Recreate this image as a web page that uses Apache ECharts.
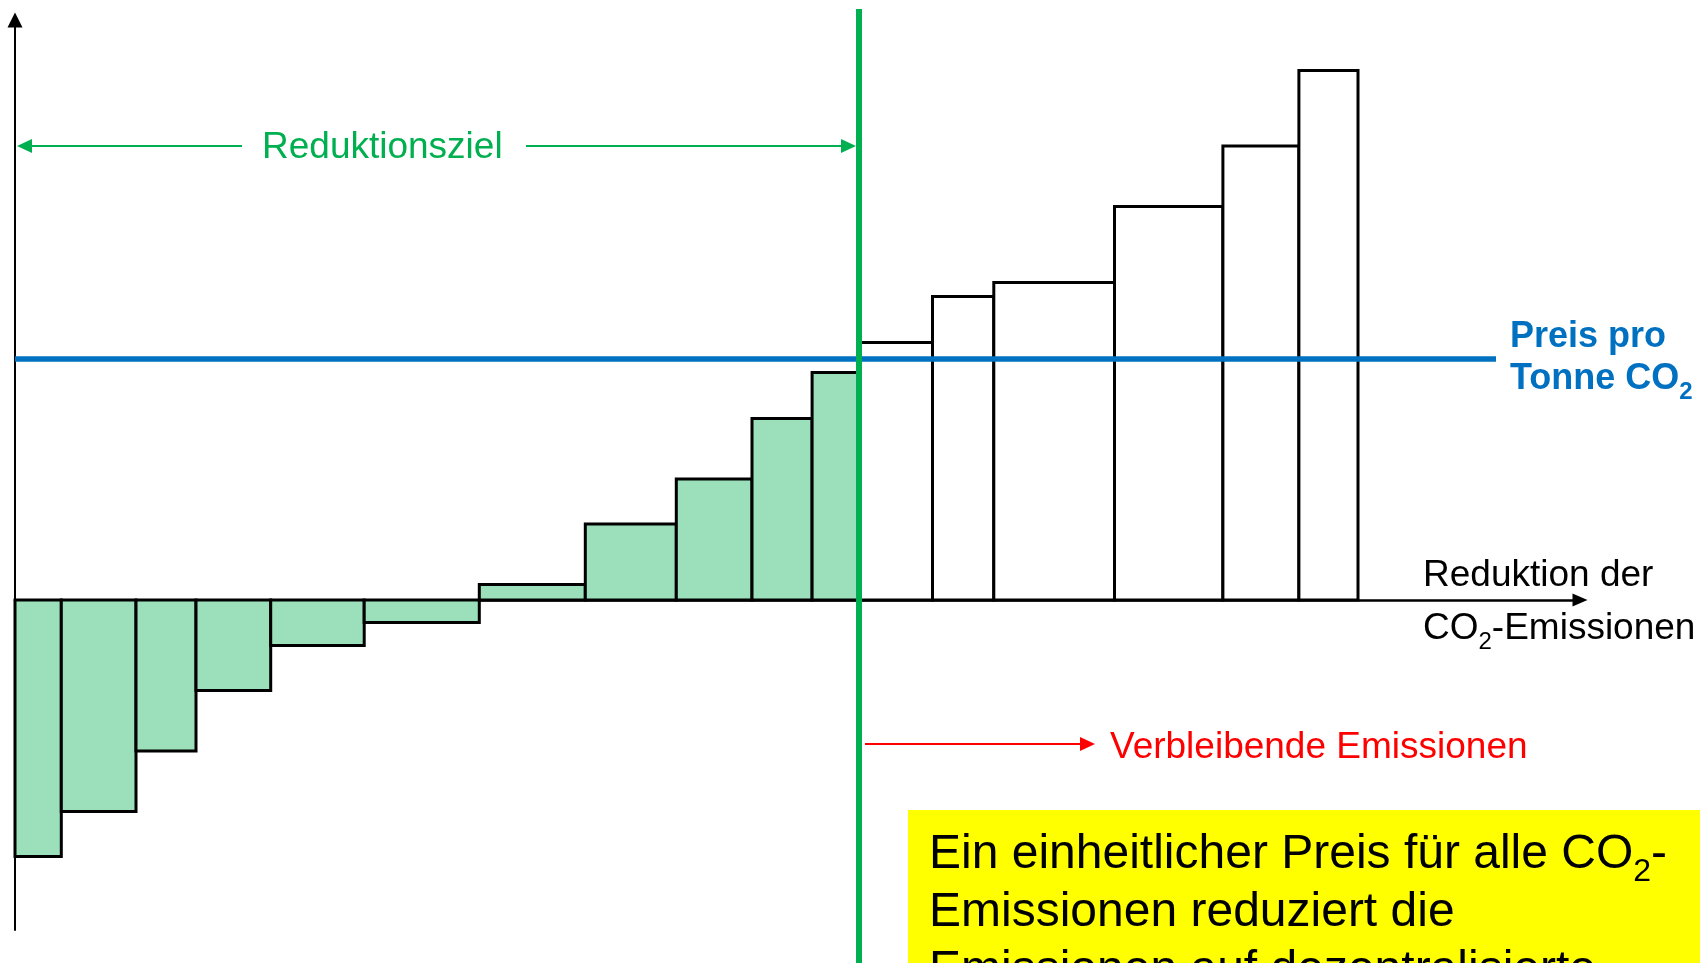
<!DOCTYPE html>
<html>
<head>
<meta charset="utf-8">
<script src="https://cdn.jsdelivr.net/npm/echarts@6/dist/echarts.min.js"></script>
<style>
  html, body { margin: 0; padding: 0; background: #ffffff; }
  #chart { width: 1700px; height: 963px; }
</style>
</head>
<body>
<div id="chart"></div>
<script>
// Abatement options sorted by cost per tonne (merit order)
const abatementVolume = [4.63, 7.47, 6.0, 7.47, 9.35, 11.51, 10.6, 9.1, 7.57, 6.01, 4.69,
                         7.35, 6.13, 12.07, 10.84, 7.6, 5.91];
const abatementCost = [-51.3, -42.3, -30.2, -18.1, -9.1, -4.5, 3.1, 15.2, 24.2, 36.3, 45.5,
                       51.5, 60.7, 63.5, 78.7, 90.8, 105.9];
const carbonPrice = 48.3;

// Annotation texts
const targetText = 'Reduktionsziel';
const remainingText = 'Verbleibende Emissionen';
const xAxisTitle = ['Reduktion der', 'CO', '2', '-Emissionen'];
const priceTitle = ['Preis pro', 'Tonne CO', '2'];
const noteLines = ['Ein einheitlicher Preis für alle CO', '2', '-',
                   'Emissionen reduziert die', 'Emissionen auf dezentralisierte'];

// Axis extents (value units)
const xMax = 156.5;
const yMin = -66;
const yMax = 116;
const priceLineEnd = 148.1;

const GREEN = '#00B050';
const FILL = '#9BE0BA';
const BLUE = '#0070C0';
const RED = '#FF0000';
const FONT = '"Liberation Sans", Arial, sans-serif';

// Bars as [start, end, cost]; the target covers everything cheaper than the price
const bars = [];
let acc = 0;
abatementVolume.forEach((w, i) => {
  bars.push([acc, acc + w, abatementCost[i]]);
  acc += w;
});
const reductionTarget = bars
  .filter(b => b[2] <= carbonPrice)
  .reduce((s, b) => Math.max(s, b[1]), 0);

const chart = echarts.init(document.getElementById('chart'), null, { renderer: 'canvas' });

const option = {
  animation: false,
  backgroundColor: '#ffffff',
  grid: { left: 15, right: 120, top: 20, bottom: 33, outerBoundsMode: 'none', containLabel: false },
  xAxis: {
    type: 'value', min: 0, max: xMax,
    axisLine: { show: true, onZero: true, symbol: ['none', 'triangle'], symbolSize: [13, 15],
                lineStyle: { color: '#000', width: 2.5 } },
    axisTick: { show: false }, axisLabel: { show: false }, splitLine: { show: false }
  },
  yAxis: {
    type: 'value', min: yMin, max: yMax,
    axisLine: { show: true, symbol: ['none', 'triangle'], symbolSize: [15, 15],
                lineStyle: { color: '#000', width: 2 } },
    axisTick: { show: false }, axisLabel: { show: false }, splitLine: { show: false }
  },
  series: [{
    type: 'custom',
    silent: true,
    data: bars,
    encode: { x: [0, 1], y: 2 },
    renderItem: function (params, api) {
      const p0 = api.coord([api.value(0), 0]);
      const p1 = api.coord([api.value(1), api.value(2)]);
      const reduced = api.value(2) <= carbonPrice;
      return {
        type: 'rect',
        shape: {
          x: p0[0], y: Math.min(p0[1], p1[1]),
          width: p1[0] - p0[0], height: Math.abs(p1[1] - p0[1])
        },
        style: { fill: reduced ? FILL : '#ffffff', stroke: '#000', lineWidth: 3 }
      };
    },
    markLine: {
      silent: true,
      symbol: ['none', 'none'],
      z: 5,
      lineStyle: { color: BLUE, width: 5.5, type: 'solid' },
      label: {
        show: true, position: 'end', distance: 14,
        formatter: '{b|' + priceTitle[0] + '}\n{b|' + priceTitle[1] + '}{s|' + priceTitle[2] + '}',
        rich: {
          b: { fontFamily: FONT, fontWeight: 'bold', fontSize: 36, color: BLUE, lineHeight: 42 },
          s: { fontFamily: FONT, fontWeight: 'bold', fontSize: 24, color: BLUE, lineHeight: 42,
               padding: [26, 0, 0, 0] }
        }
      },
      emphasis: { disabled: true },
      data: [[{ coord: [0, carbonPrice] }, { coord: [priceLineEnd, carbonPrice] }]]
    }
  }]
};

chart.setOption(option);

// Annotations placed from the chart's own scales
const toPx = (x, y) => chart.convertToPixel({ gridIndex: 0 }, [x, y]);
const tx = toPx(reductionTarget, 0)[0];
const x0 = toPx(0, 0)[0];
const arrowY = 146;
const redY = 744;

function arrowHead(tipX, y, dir, color) {
  const len = 15, half = 7;
  return {
    type: 'polygon', z: 30, silent: true,
    shape: { points: [[tipX, y], [tipX - dir * len, y - half], [tipX - dir * len, y + half]] },
    style: { fill: color }
  };
}
function seg(xa, ya, xb, yb, color, w) {
  return { type: 'line', z: 30, silent: true,
           shape: { x1: xa, y1: ya, x2: xb, y2: yb },
           style: { stroke: color, lineWidth: w } };
}

const graphics = [
  // Reduction target marker
  seg(tx, 9, tx, 975, GREEN, 6),
  // Two-sided arrow for the target
  seg(x0 + 14, arrowY, 242, arrowY, GREEN, 2.2),
  arrowHead(x0 + 2, arrowY, -1, GREEN),
  seg(526, arrowY, tx - 16, arrowY, GREEN, 2.2),
  arrowHead(tx - 3, arrowY, 1, GREEN),
  {
    type: 'text', z: 30, silent: true, x: 262, y: arrowY + 2,
    style: { text: targetText, font: '37px ' + FONT, fill: GREEN, verticalAlign: 'middle', align: 'left' }
  },
  // Remaining emissions arrow
  seg(tx + 6, redY, 1082, redY, RED, 2.2),
  arrowHead(1095, redY, 1, RED),
  {
    type: 'text', z: 30, silent: true, x: 1110, y: redY + 4,
    style: { text: remainingText, font: '37px ' + FONT, fill: RED, verticalAlign: 'middle', align: 'left' }
  },
  // X axis title
  {
    type: 'text', z: 30, silent: true, x: 1423, y: 576 - 26.5,
    style: {
      text: '{n|' + xAxisTitle[0] + '}\n{n|' + xAxisTitle[1] + '}{s|' + xAxisTitle[2] + '}{n|' + xAxisTitle[3] + '}',
      verticalAlign: 'top', align: 'left',
      rich: {
        n: { fontFamily: FONT, fontSize: 37, fill: '#000', lineHeight: 53 },
        s: { fontFamily: FONT, fontSize: 24, fill: '#000', lineHeight: 53, padding: [27, 0, 0, 0] }
      }
    }
  },
  // Note box
  {
    type: 'rect', z: 25, silent: true,
    shape: { x: 908, y: 810, width: 820, height: 200 },
    style: { fill: '#FFFF00' }
  },
  {
    type: 'text', z: 30, silent: true, x: 929, y: 855 - 29,
    style: {
      text: '{n|' + noteLines[0] + '}{s|' + noteLines[1] + '}{n|' + noteLines[2] + '}\n{n|' +
            noteLines[3] + '}\n{n|' + noteLines[4] + '}',
      verticalAlign: 'top', align: 'left',
      rich: {
        n: { fontFamily: FONT, fontSize: 48, fill: '#000', lineHeight: 58 },
        s: { fontFamily: FONT, fontSize: 32, fill: '#000', lineHeight: 58, padding: [35, 0, 0, 0] }
      }
    }
  }
];

chart.setOption({ graphic: { elements: graphics } });
</script>
</body>
</html>
